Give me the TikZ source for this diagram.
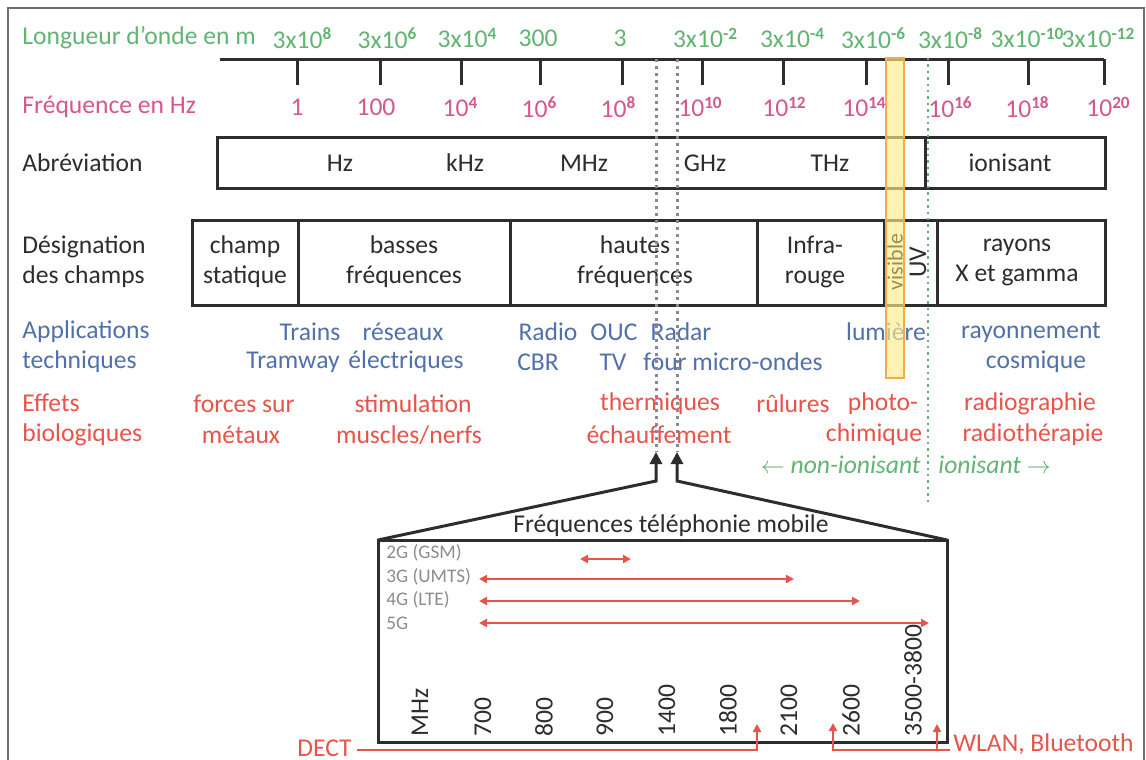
\documentclass[tikz,border=0pt]{standalone}
\usepackage{fontspec}
\setmainfont{Carlito}
\usetikzlibrary{arrows.meta}
\definecolor{cgreen}{RGB}{98,180,115}
\definecolor{cpink}{RGB}{212,88,140}
\definecolor{cblue}{RGB}{82,112,172}
\definecolor{cred}{RGB}{232,84,74}
\definecolor{cdark}{RGB}{45,45,45}
\definecolor{cgrey}{RGB}{140,140,140}
\definecolor{cdot}{RGB}{135,135,150}
\definecolor{cframe}{RGB}{110,110,110}
\definecolor{cyel}{RGB}{255,238,140}
\definecolor{corange}{RGB}{245,170,80}
\definecolor{colive}{RGB}{150,145,80}
\newcommand\myex[1]{\raisebox{0.33em}{\fontsize{8.6}{10}\selectfont\bfseries #1}}
\begin{document}
\begin{tikzpicture}[x=0.5pt,y=-0.5pt,
  txt/.style={font=\fontsize{12.8}{15}\selectfont, inner sep=0pt, text=cdark},
  sm/.style={font=\fontsize{9.6}{12}\selectfont, inner sep=0pt, text=cgrey},
  boxline/.style={draw=cdark, line width=1.5pt},
  blk/.style={draw=cdark, line width=1.5pt, line join=miter, -{Triangle[width=6pt,length=6pt]}},
  redarr/.style={draw=cred, line width=1pt, {Triangle[width=4pt,length=4pt]}-{Triangle[width=4pt,length=4pt]}},
  redup/.style={draw=cred, line width=1pt, -{Triangle[width=4pt,length=4pt]}},
  ]
\useasboundingbox (0,0) rectangle (1146,760);
\fill[white] (0,0) rectangle (1146,760);
% frame
\draw[cframe, line width=1pt] (8,762) -- (8,8) -- (1144,8) -- (1144,762);

% wavelength row
\node[txt, text=cgreen, anchor=west] (lw) at (22,38) {Longueur d’onde en m};
\foreach \x/\t [count=\i] in {302/3x10\myex{8}, 387/3x10\myex{6}, 467/3x10\myex{4}, 538/300, 620/3, 705/3x10\myex{-2}, 792/3x10\myex{-4}, 873/3x10\myex{-6}, 950/3x10\myex{-8}, 1027/3x10\myex{-10}, 1098/3x10\myex{-12}}
  \node[txt, text=cgreen] (w\i) at (\x,38) {\t};

% axis
\draw[cdark, line width=1.5pt] (220,59) -- (1104,59);
\foreach \x in {297,380,461,540,622,702,783,866,948,1028,1104}
  \draw[cdark, line width=1.5pt] (\x,59) -- (\x,85);

% frequency row
\node[txt, text=cpink, anchor=west] (fl) at (22,107) {Fréquence en Hz};
\foreach \x/\t [count=\i] in {297/1, 376/100, 460/10\myex{4}, 539/10\myex{6}, 618/10\myex{8}, 700/10\myex{10}, 784/10\myex{12}, 864/10\myex{14}, 950/10\myex{16}, 1027/10\myex{18}, 1108/10\myex{20}}
  \node[txt, text=cpink] (f\i) at (\x,107) {\t};

% abbreviation
\node[txt, anchor=west] (ab) at (22,163) {Abréviation};
\draw[boxline] (217,137) rectangle (1105,188);
\draw[boxline] (925,137) -- (925,188);
\foreach \x/\t [count=\i] in {340/Hz, 465/kHz, 584/MHz, 705/GHz, 830/THz, 1010/ionisant}
  \node[txt] (a\i) at (\x,163) {\t};

% designation
\node[txt, anchor=west, align=left] (des) at (22,262) {Désignation\\des champs};
\draw[boxline] (192,220) rectangle (1105,305);
\foreach \x in {298,510,757,884,937}
  \draw[boxline] (\x,220) -- (\x,305);
\node[txt, align=center] (d1) at (245,262) {champ\\statique};
\node[txt, align=center] (d2) at (404,262) {basses\\fréquences};
\node[txt, align=center] (d3) at (635,262) {hautes\\fréquences};
\node[txt, align=center] (d4) at (815,262) {Infra-\\rouge};
\node[txt, align=center] (d5) at (1017,262) {rayons\\X et gamma};
\node[txt, rotate=90] (uv) at (918,262) {UV};

% applications
\node[txt, text=cblue, anchor=west, align=left] (app) at (22,347) {Applications\\techniques};
\node[txt, text=cblue] (p1) at (310,332) {Trains};
\node[txt, text=cblue] (p2) at (293,362) {Tramway};
\node[txt, text=cblue] (p3) at (403,332) {réseaux};
\node[txt, text=cblue] (p4) at (406,362) {électriques};
\node[txt, text=cblue] (p5) at (548,332) {Radio};
\node[txt, text=cblue] (p6) at (538,362) {CBR};
\node[txt, text=cblue] (p7) at (614,332) {OUC};
\node[txt, text=cblue] (p8) at (613,362) {TV};
\node[txt, text=cblue] (p9) at (681,332) {Radar};
\node[txt, text=cblue] (p10) at (733,362) {four micro-ondes};
\node[txt, text=cblue] (p11) at (886,332) {lumière};
\node[txt, text=cblue] (p12) at (1031,332) {rayonnement};
\node[txt, text=cblue] (p13) at (1036,362) {cosmique};

% effects
\node[txt, text=cred, anchor=west, align=left] (eff) at (22,420) {Effets\\biologiques};
\node[txt, text=cred] (e1) at (244,404) {forces sur};
\node[txt, text=cred] (e2) at (241,435) {métaux};
\node[txt, text=cred] (e3) at (413,404) {stimulation};
\node[txt, text=cred] (e4) at (409,435) {muscles/nerfs};
\node[txt, text=cred] (e5) at (660,404) {thermiques};
\node[txt, text=cred] (e6) at (659,435) {échauffement};
\node[txt, text=cred] (e7) at (793,404) {rûlures};
\node[txt, text=cred] (e8) at (883,404) {photo-};
\node[txt, text=cred] (e9) at (874,435) {chimique};
\node[txt, text=cred] (e10) at (1030,404) {radiographie};
\node[txt, text=cred] (e11) at (1033,435) {radiothérapie};

\node[txt, text=cgreen, anchor=east] (ni) at (921,465) {$\leftarrow$ \itshape non-ionisant};
\node[txt, text=cgreen, anchor=west] (io) at (938,465) {\itshape ionisant $\rightarrow$};

% visible bar and dotted lines
\draw[corange, line width=1.2pt, fill=cyel, fill opacity=0.65] (886,58) rectangle (904,378);
\node[sm, font=\fontsize{11}{12}\selectfont, text=colive, rotate=90] (vis) at (895,262) {visible};
\draw[cgreen, line width=1.2pt, dotted] (928,58) -- (928,502);
\coordinate (t1) at (656,452);
\coordinate (t2) at (677,452);
\draw[cdot, line width=1.5pt, dotted] (656,59) -- (t1);
\draw[cdot, line width=1.5pt, dotted] (677,59) -- (t2);

% mobile box
\coordinate (mtl) at (378,540);
\coordinate (mtr) at (947,540);
\coordinate (mbr) at (947,742);
\coordinate (k1) at (656,481);
\coordinate (k2) at (677,481);
\draw[boxline] (mtl) rectangle (mbr);
\draw[blk] (mtl) -- (k1) -- (t1);
\draw[blk] (mtr) -- (k2) -- (t2);
\node[txt] (mt) at (671,526) {Fréquences téléphonie mobile};

\node[sm, anchor=west] (g2) at (386,553) {2G (GSM)};
\node[sm, anchor=west] (g3) at (386,577) {3G (UMTS)};
\node[sm, anchor=west] (g4) at (386,600) {4G (LTE)};
\node[sm, anchor=west] (g5) at (386,623) {5G};
\coordinate (r2a) at (580,559); \coordinate (r2b) at (631,559);
\coordinate (r3a) at (479,579); \coordinate (r3b) at (794,579);
\coordinate (r4a) at (479,601); \coordinate (r4b) at (860,601);
\coordinate (r5a) at (479,623); \coordinate (r5b) at (929,623);
\draw[redarr] (r2a) -- (r2b);
\draw[redarr] (r3a) -- (r3b);
\draw[redarr] (r4a) -- (r4b);
\draw[redarr] (r5a) -- (r5b);

\foreach \x/\t [count=\i] in {420/MHz, 483/700, 544/800, 605/900, 667/1400, 728/1800, 789/2100, 851/2600, 913/3500-3800}
  \node[txt, rotate=90, anchor=west] (m\i) at (\x,737) {\t};

% DECT / WLAN
\node[txt, text=cred, anchor=east] (dect) at (352,748) {DECT};
\coordinate (ds) at (357,750);
\coordinate (dc) at (757,750);
\coordinate (dt) at (757,724);
\draw[redup] (ds) -- (dc) -- (dt);
\node[txt, text=cred, anchor=west] (wl) at (953,744) {WLAN, Bluetooth};
\coordinate (ws) at (950,750);
\coordinate (wc1) at (833,750);
\coordinate (wt1) at (833,723);
\coordinate (wc2) at (937,750);
\coordinate (wt2) at (937,724);
\draw[redup] (ws) -- (wc1) -- (wt1);
\draw[redup] (wc2) -- (wt2);
\end{tikzpicture}
\end{document}
